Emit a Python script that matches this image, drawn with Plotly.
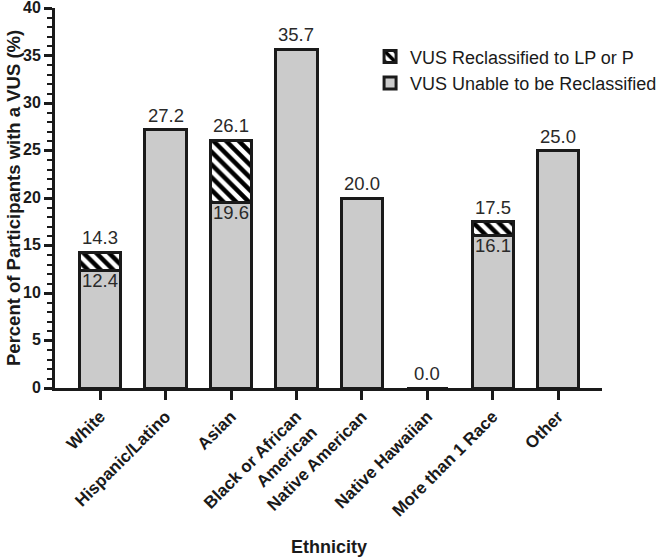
import plotly.graph_objects as go

categories = ["White", "Hispanic/Latino", "Asian", "Black or African<br>American",
              "Native American", "Native Hawaiian", "More than 1 Race", "Other"]
unable = [12.4, 27.2, 19.6, 35.7, 20.0, 0.0, 16.1, 25.0]
totals = [14.3, 27.2, 26.1, 35.7, 20.0, 0.0, 17.5, 25.0]
reclassified = [round(t - u, 1) for t, u in zip(totals, unable)]

INK = "#1a1a1a"
FONT = "Liberation Sans, Arial"

fig = go.Figure()
fig.add_trace(go.Bar(
    x=categories, y=unable, name="VUS Unable to be Reclassified",
    legendgroup="b", legendrank=2,
    marker=dict(color="#cbcbcb", line=dict(color=INK, width=3)),
    width=0.63,
))
fig.add_trace(go.Bar(
    x=categories, y=reclassified, name="VUS Reclassified to LP or P",
    legendgroup="a", legendrank=1,
    marker=dict(color="white", line=dict(color=INK, width=3),
                pattern=dict(shape="\\", fgcolor="#000000", bgcolor="white",
                             fgopacity=1, fillmode="replace",
                             size=9, solidity=0.5)),
    width=0.63,
))

label_font = dict(family=FONT, size=18.5, color="#2a2a2a")
for c, t in zip(categories, totals):
    fig.add_annotation(x=c, y=t, text=f"{t:.1f}", showarrow=False,
                       yanchor="bottom", yshift=2, font=label_font)
for c, u, r in zip(categories, unable, reclassified):
    if r > 0:
        fig.add_annotation(x=c, y=u, text=f"{u:.1f}", showarrow=False,
                           yanchor="top", yshift=2, font=label_font)

# axis titles
fig.add_annotation(text="<b>Ethnicity</b>", xref="paper", yref="paper", x=0.5, y=0,
                   yshift=-159, yanchor="middle", showarrow=False,
                   font=dict(family=FONT, size=18, color=INK))
fig.add_annotation(text="<b>Percent of Participants with a VUS (%)</b>", xref="paper",
                   yref="paper", x=0, y=0.5, xshift=-42, xanchor="center",
                   textangle=-90, showarrow=False,
                   font=dict(family=FONT, size=18.5, color=INK))

fig.update_layout(
    width=659, height=557,
    barmode="stack",
    plot_bgcolor="white", paper_bgcolor="white",
    margin=dict(l=55, r=57, t=8, b=169, autoexpand=False),
    font=dict(family=FONT, color=INK),
    legend=dict(x=0.576, y=0.92, xanchor="left", yanchor="top",
                traceorder="normal", bgcolor="rgba(0,0,0,0)",
                font=dict(size=18, color=INK, family=FONT),
                tracegroupgap=5),
    showlegend=True,
)
fig.update_xaxes(
    range=[-0.69, 7.67], showline=True, linecolor=INK, linewidth=3,
    ticks="outside", ticklen=9, tickwidth=3, tickcolor=INK,
    tickangle=-45, automargin=False, ticklabeloverflow="allow",
    tickfont=dict(size=17, color=INK, family=FONT, weight="bold"),
    showgrid=False, zeroline=False,
)
fig.update_yaxes(
    range=[0, 40.05], tickvals=[0, 5, 10, 15, 20, 25, 30, 35, 40],
    showline=True, linecolor=INK, linewidth=3, automargin=False,
    ticklabeloverflow="allow", ticklabelshift=-1,
    ticks="outside", ticklen=8, tickwidth=3, tickcolor=INK,
    tickfont=dict(size=16, color=INK, family=FONT, weight="bold"),
    minor=dict(ticks="outside", dtick=1, ticklen=5, tickwidth=2, tickcolor=INK),
    showgrid=False, zeroline=False,
)

fig.write_html("out.html", config={"displayModeBar": False},
               post_script="document.body.style.margin='0';")
